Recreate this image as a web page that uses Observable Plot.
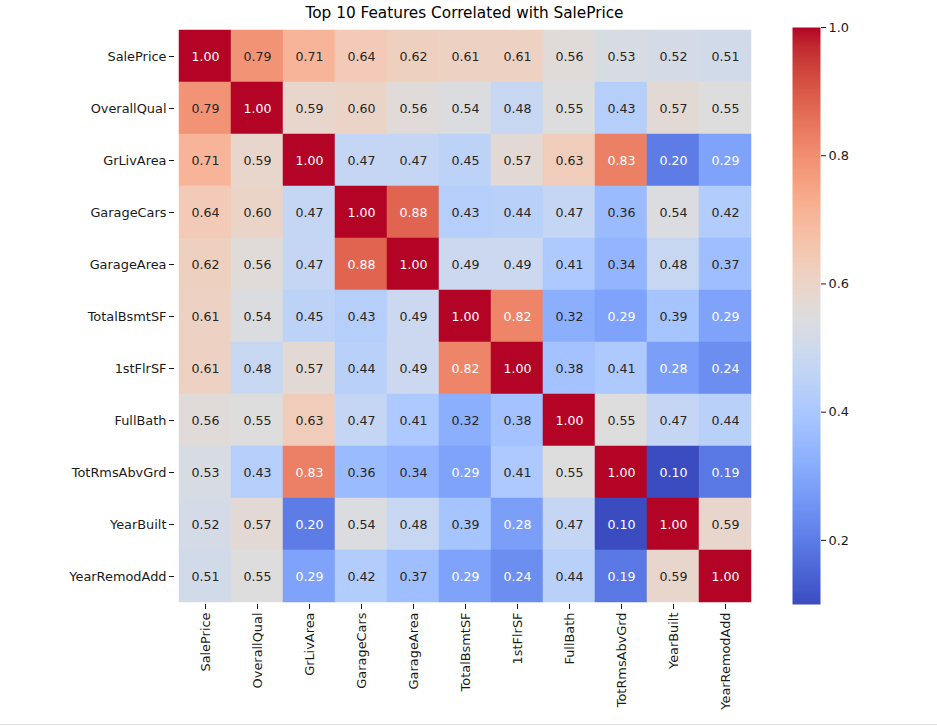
<!DOCTYPE html>
<html>
<head>
<meta charset="utf-8">
<script src="https://cdn.jsdelivr.net/npm/d3@7"></script>
<script src="https://cdn.jsdelivr.net/npm/@observablehq/plot@0.6"></script>
<style>
  body { margin: 0; background: #fff; font-family: "DejaVu Sans", sans-serif; }
  #wrap { position: relative; width: 937px; height: 726px; overflow: hidden; background: #fff; }
  #title { position: absolute; left: 0; width: 929px; top: 4px; line-height: 18px; text-align: center; font-size: 15.3px; color: #000; }
  #wrap svg { position: absolute; top: 0; overflow: visible; }
  #edge { position: absolute; left: 0; top: 724px; width: 937px; height: 1px; background: #dcdcdc; }
</style>
</head>
<body>
<div id="wrap">
  <div id="title">Top 10 Features Correlated with SalePrice</div>
  <div id="edge"></div>
</div>
<script>
// Features, in matrix order (rows and columns)
const features = ["SalePrice", "OverallQual", "GrLivArea", "GarageCars", "GarageArea",
  "TotalBsmtSF", "1stFlrSF", "FullBath", "TotRmsAbvGrd", "YearBuilt", "YearRemodAdd"];

// Correlation matrix, one row per feature
const salePrice    = [1.00, 0.79, 0.71, 0.64, 0.62, 0.61, 0.61, 0.56, 0.53, 0.52, 0.51];
const overallQual  = [0.79, 1.00, 0.59, 0.60, 0.56, 0.54, 0.48, 0.55, 0.43, 0.57, 0.55];
const grLivArea    = [0.71, 0.59, 1.00, 0.47, 0.47, 0.45, 0.57, 0.63, 0.83, 0.20, 0.29];
const garageCars   = [0.64, 0.60, 0.47, 1.00, 0.88, 0.43, 0.44, 0.47, 0.36, 0.54, 0.42];
const garageArea   = [0.62, 0.56, 0.47, 0.88, 1.00, 0.49, 0.49, 0.41, 0.34, 0.48, 0.37];
const totalBsmtSF  = [0.61, 0.54, 0.45, 0.43, 0.49, 1.00, 0.82, 0.32, 0.29, 0.39, 0.29];
const firstFlrSF   = [0.61, 0.48, 0.57, 0.44, 0.49, 0.82, 1.00, 0.38, 0.41, 0.28, 0.24];
const fullBath     = [0.56, 0.55, 0.63, 0.47, 0.41, 0.32, 0.38, 1.00, 0.55, 0.47, 0.44];
const totRmsAbvGrd = [0.53, 0.43, 0.83, 0.36, 0.34, 0.29, 0.41, 0.55, 1.00, 0.10, 0.19];
const yearBuilt    = [0.52, 0.57, 0.20, 0.54, 0.48, 0.39, 0.28, 0.47, 0.10, 1.00, 0.59];
const yearRemodAdd = [0.51, 0.55, 0.29, 0.42, 0.37, 0.29, 0.24, 0.44, 0.19, 0.59, 1.00];

const matrix = [salePrice, overallQual, grLivArea, garageCars, garageArea,
  totalBsmtSF, firstFlrSF, fullBath, totRmsAbvGrd, yearBuilt, yearRemodAdd];

const colorbarTicks = [0.2, 0.4, 0.6, 0.8, 1.0];

// Long-form table for the cell and text marks
const cells = features.flatMap((row, i) =>
  matrix[i].map((value, j) => ({row, col: features[j], value})));

// Diverging "coolwarm" palette (Moreland), sampled at 33 evenly spaced stops
const coolwarm = [
  "#3b4cc0", "#445acc", "#4d68d7", "#5775e1", "#6282ea", "#6c8ef1", "#779af7", "#82a5fb",
  "#8db0fe", "#98b9ff", "#a3c2ff", "#aec9fd", "#b8d0f9", "#c2d5f4", "#ccd9ee", "#d5dbe6",
  "#dddddd", "#e5d8d1", "#ecd3c5", "#f1ccb9", "#f5c4ad", "#f7bba0", "#f7b194", "#f7a687",
  "#f49a7b", "#f18d6f", "#ec7f63", "#e57058", "#de604d", "#d55042", "#cb3e38", "#c0282f",
  "#b40426"
];
const interp = d3.piecewise(d3.interpolateRgb, coolwarm);
const vmin = d3.min(cells, d => d.value);
const vmax = d3.max(cells, d => d.value);
const colorScale = {type: "linear", domain: [vmin, vmax], interpolate: interp};

// Light text on dark cells, dark text on light cells (relative luminance rule)
function luminance(c) {
  const rgb = d3.rgb(c);
  const lin = v => { v /= 255; return v <= 0.03928 ? v / 12.92 : Math.pow((v + 0.055) / 1.055, 2.4); };
  return 0.2126 * lin(rgb.r) + 0.7152 * lin(rgb.g) + 0.0722 * lin(rgb.b);
}
const isDark = d => luminance(interp((d.value - vmin) / (vmax - vmin))) <= 0.408;

const font = "'DejaVu Sans', sans-serif";
const W = 937, H = 726;

const heatmap = Plot.plot({
  width: W,
  height: H,
  marginLeft: 174,
  marginRight: 182,
  marginTop: 27,
  marginBottom: 122,
  style: {fontFamily: font, fontSize: "12.9px", color: "#1a1a1a", background: "transparent"},
  x: {domain: features, padding: 0, label: null, tickRotate: -90, tickSize: 5, tickPadding: 3},
  y: {domain: features, padding: 0, label: null, tickSize: 5, tickPadding: 3},
  color: colorScale,
  marks: [
    Plot.cell(cells, {x: "col", y: "row", fill: "value", stroke: "value", strokeWidth: 0.5, inset: 0}),
    Plot.text(cells.filter(isDark), {x: "col", y: "row", text: d => d.value.toFixed(2),
      fill: "#ffffff", fontSize: 12.6}),
    Plot.text(cells.filter(d => !isDark(d)), {x: "col", y: "row", text: d => d.value.toFixed(2),
      fill: "#262626", fontSize: 12.6})
  ]
});
heatmap.style.left = "0px";

// Vertical colour bar to the right of the matrix
const colorbar = Plot.plot({
  width: 90,
  height: H,
  marginLeft: 0,
  marginRight: 62,
  marginTop: 27,
  marginBottom: 122,
  style: {fontFamily: font, fontSize: "12.9px", color: "#1a1a1a", background: "transparent"},
  x: {domain: [0, 1], axis: null},
  y: {domain: [vmin, vmax], axis: "right", ticks: colorbarTicks, tickFormat: ".1f",
      label: null, tickSize: 5, tickPadding: 3},
  color: colorScale,
  marks: [
    Plot.raster({fill: (x, y) => y, x1: 0, x2: 1, y1: vmin, y2: vmax, width: 1, height: 400,
      imageRendering: "auto"})
  ]
});
colorbar.style.left = "792px";

const wrap = document.getElementById("wrap");
wrap.appendChild(heatmap);
wrap.appendChild(colorbar);
</script>
</body>
</html>
